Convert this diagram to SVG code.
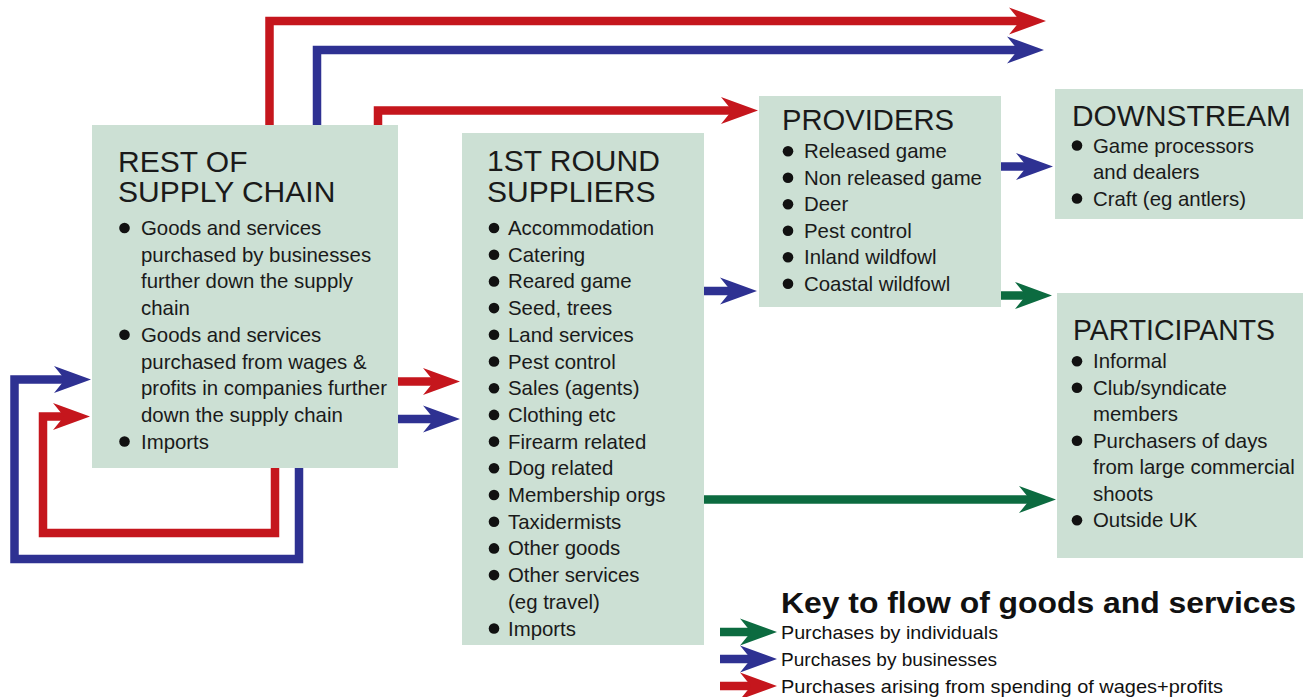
<svg xmlns="http://www.w3.org/2000/svg" width="1303" height="697" viewBox="0 0 1303 697">
<style>
.box{fill:#cce0d4}
.t{font-family:"Liberation Sans",Arial,sans-serif;font-size:20.4px;fill:#1a1a1a}
.h{font-family:"Liberation Sans",Arial,sans-serif;font-size:30px;fill:#1a1a1a}
.k{font-family:"Liberation Sans",Arial,sans-serif;font-size:19px;fill:#111}
.kt{font-family:"Liberation Sans",Arial,sans-serif;font-size:29px;font-weight:bold;fill:#111}
.b{fill:#111}
.c{fill:none;stroke-width:8.5;stroke-linejoin:miter}
.r{stroke:#c5161d}
.u{stroke:#2e3192}
.g{stroke:#0c6b40}
.r.c{marker-end:url(#mr)}
.u.c{marker-end:url(#mu)}
.g.c{marker-end:url(#mg)}
.noend{marker-end:none}
</style>
<defs>
<marker id="mr" markerUnits="userSpaceOnUse" markerWidth="40" markerHeight="30" refX="17" refY="15" orient="auto" overflow="visible"><path d="M0,1.5 L37,15 L0,28.5 L11,15 Z" fill="#c5161d"/></marker>
<marker id="mu" markerUnits="userSpaceOnUse" markerWidth="40" markerHeight="30" refX="17" refY="15" orient="auto" overflow="visible"><path d="M0,1.5 L37,15 L0,28.5 L11,15 Z" fill="#2e3192"/></marker>
<marker id="mg" markerUnits="userSpaceOnUse" markerWidth="40" markerHeight="30" refX="17" refY="15" orient="auto" overflow="visible"><path d="M0,1.5 L37,15 L0,28.5 L11,15 Z" fill="#0c6b40"/></marker>
</defs>
<rect width="1303" height="697" fill="#fff"/>

<g id="connectors">
<path class="c r" d="M269.5,127 V21 H1026"/>
<path class="c u" d="M317,127 V50 H1024"/>
<path class="c r" d="M378,127 V110.5 H738"/>
<path class="c u" d="M299,466 V559 H14.5 V379.5 H71"/>
<path class="c r" d="M275,466 V533 H43 V416.5 H70"/>
<path class="c r" d="M396,381.5 H440"/>
<path class="c u" d="M396,419 H440"/>
<path class="c u" d="M702,291 H737"/>
<path class="c u" d="M999,166.5 H1033"/>
<path class="c g" d="M999,295.5 H1032"/>
<path class="c g" d="M702,499.5 H1036"/>
</g>

<g id="rest-of-supply-chain">
<rect class="box" x="92" y="125" width="306" height="343"/>
<text class="h" x="118" y="171.5">REST OF</text>
<text class="h" x="118" y="201.5">SUPPLY CHAIN</text>
<circle class="b" cx="124.5" cy="228" r="5.3"/>
<text class="t" x="141" y="235">Goods and services</text>
<text class="t" x="141" y="261.7">purchased by businesses</text>
<text class="t" x="141" y="288.4">further down the supply</text>
<text class="t" x="141" y="315">chain</text>
<circle class="b" cx="124.5" cy="334.8" r="5.3"/>
<text class="t" x="141" y="341.8">Goods and services</text>
<text class="t" x="141" y="368.5">purchased from wages &amp;</text>
<text class="t" x="141" y="395">profits in companies further</text>
<text class="t" x="141" y="422">down the supply chain</text>
<circle class="b" cx="124.5" cy="441.5" r="5.3"/>
<text class="t" x="141" y="448.5">Imports</text>
</g>

<g id="first-round-suppliers">
<rect class="box" x="462" y="133" width="242" height="512"/>
<text class="h" x="487" y="171">1ST ROUND</text>
<text class="h" x="487" y="201.5">SUPPLIERS</text>
<g>
<circle class="b" cx="494" cy="228" r="5.3"/><text class="t" x="508" y="235">Accommodation</text>
<circle class="b" cx="494" cy="254.7" r="5.3"/><text class="t" x="508" y="261.7">Catering</text>
<circle class="b" cx="494" cy="281.4" r="5.3"/><text class="t" x="508" y="288.4">Reared game</text>
<circle class="b" cx="494" cy="308.1" r="5.3"/><text class="t" x="508" y="315.1">Seed, trees</text>
<circle class="b" cx="494" cy="334.8" r="5.3"/><text class="t" x="508" y="341.8">Land services</text>
<circle class="b" cx="494" cy="361.5" r="5.3"/><text class="t" x="508" y="368.5">Pest control</text>
<circle class="b" cx="494" cy="388.2" r="5.3"/><text class="t" x="508" y="395.2">Sales (agents)</text>
<circle class="b" cx="494" cy="414.9" r="5.3"/><text class="t" x="508" y="421.9">Clothing etc</text>
<circle class="b" cx="494" cy="441.6" r="5.3"/><text class="t" x="508" y="448.6">Firearm related</text>
<circle class="b" cx="494" cy="468.3" r="5.3"/><text class="t" x="508" y="475.3">Dog related</text>
<circle class="b" cx="494" cy="495" r="5.3"/><text class="t" x="508" y="502">Membership orgs</text>
<circle class="b" cx="494" cy="521.7" r="5.3"/><text class="t" x="508" y="528.7">Taxidermists</text>
<circle class="b" cx="494" cy="548.4" r="5.3"/><text class="t" x="508" y="555.4">Other goods</text>
<circle class="b" cx="494" cy="575.1" r="5.3"/><text class="t" x="508" y="582.1">Other services</text>
<text class="t" x="508" y="608.8">(eg travel)</text>
<circle class="b" cx="494" cy="628.5" r="5.3"/><text class="t" x="508" y="635.5">Imports</text>
</g>
</g>

<g id="providers">
<rect class="box" x="759" y="96" width="242" height="211"/>
<text class="h" x="782" y="130" textLength="172" lengthAdjust="spacingAndGlyphs">PROVIDERS</text>
<circle class="b" cx="788" cy="151.3" r="5.3"/><text class="t" x="804" y="158.3">Released game</text>
<circle class="b" cx="788" cy="177.8" r="5.3"/><text class="t" x="804" y="184.8">Non released game</text>
<circle class="b" cx="788" cy="204.3" r="5.3"/><text class="t" x="804" y="211.3">Deer</text>
<circle class="b" cx="788" cy="230.8" r="5.3"/><text class="t" x="804" y="237.8">Pest control</text>
<circle class="b" cx="788" cy="257.3" r="5.3"/><text class="t" x="804" y="264.3">Inland wildfowl</text>
<circle class="b" cx="788" cy="283.8" r="5.3"/><text class="t" x="804" y="290.8">Coastal wildfowl</text>
</g>

<g id="downstream">
<rect class="box" x="1055" y="89" width="248" height="130"/>
<text class="h" x="1072" y="126" textLength="219" lengthAdjust="spacingAndGlyphs">DOWNSTREAM</text>
<circle class="b" cx="1077" cy="145.5" r="5.3"/><text class="t" x="1093" y="152.5">Game processors</text>
<text class="t" x="1093" y="179">and dealers</text>
<circle class="b" cx="1077" cy="198.5" r="5.3"/><text class="t" x="1093" y="205.5">Craft (eg antlers)</text>
</g>

<g id="participants">
<rect class="box" x="1057" y="293" width="246" height="265"/>
<text class="h" x="1073" y="340" textLength="202" lengthAdjust="spacingAndGlyphs">PARTICIPANTS</text>
<circle class="b" cx="1077" cy="361.3" r="5.3"/><text class="t" x="1093" y="368.3">Informal</text>
<circle class="b" cx="1077" cy="387.8" r="5.3"/><text class="t" x="1093" y="394.8">Club/syndicate</text>
<text class="t" x="1093" y="421.3">members</text>
<circle class="b" cx="1077" cy="440.8" r="5.3"/><text class="t" x="1093" y="447.8">Purchasers of days</text>
<text class="t" x="1093" y="474.3">from large commercial</text>
<text class="t" x="1093" y="500.8">shoots</text>
<circle class="b" cx="1077" cy="520.3" r="5.3"/><text class="t" x="1093" y="527.3">Outside UK</text>
</g>

<g id="key">
<text class="kt" x="781" y="613" textLength="515" lengthAdjust="spacingAndGlyphs">Key to flow of goods and services</text>
<path class="c g" d="M720,632 H757"/>
<text class="k" x="781" y="639" textLength="217" lengthAdjust="spacingAndGlyphs">Purchases by individuals</text>
<path class="c u" d="M720,659 H757"/>
<text class="k" x="781" y="666" textLength="216" lengthAdjust="spacingAndGlyphs">Purchases by businesses</text>
<path class="c r" d="M720,686 H757"/>
<text class="k" x="781" y="693" textLength="442" lengthAdjust="spacingAndGlyphs">Purchases arising from spending of wages+profits</text>
</g>
</svg>
